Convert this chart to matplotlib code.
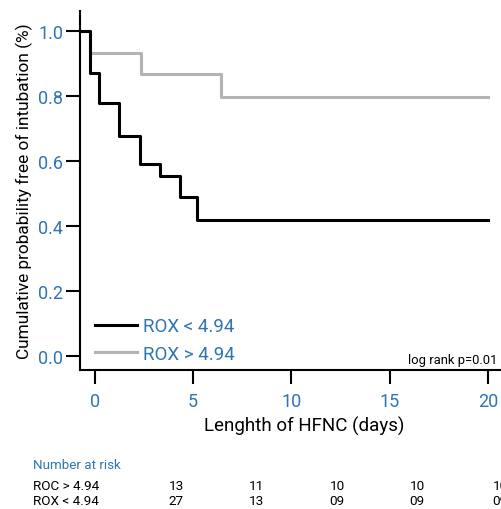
import matplotlib
matplotlib.use("Agg")
import matplotlib.pyplot as plt

plt.rcParams["font.family"] = ["Roboto", "DejaVu Sans"]

BLUE = "#2f74b5"
GREY = "#b3b3b3"

# Kaplan-Meier step curves (time in days, survival probability)
low_t = [-0.8, -0.25, 0.22, 1.25, 2.3, 3.3, 4.35, 5.2, 20]
low_s = [1.0, 0.871, 0.778, 0.678, 0.59, 0.553, 0.49, 0.42, 0.42]
high_t = [-0.8, -0.25, 2.33, 6.4, 20]
high_s = [1.0, 0.933, 0.867, 0.797, 0.797]

xticks = [0, 5, 10, 15, 20]
yticks = [0.0, 0.2, 0.4, 0.6, 0.8, 1.0]

risk_rows = ["ROC > 4.94", "ROX < 4.94"]
risk_high = ["13", "11", "10", "10", "10"]
risk_low = ["27", "13", "09", "09", "09"]

fig = plt.figure(figsize=(5.02, 5.10), dpi=100)
ax = fig.add_axes([0.159, 0.2725, 0.841, 0.7035])

ax.step(high_t, high_s, where="post", color=GREY, lw=2.2, label="ROX > 4.94")
ax.step(low_t, low_s, where="post", color="black", lw=2.2, label="ROX < 4.94")

ax.set_xlim(-0.76, 20.71)
ax.set_ylim(-0.043, 1.0615)
ax.set_xticks(xticks)
ax.set_yticks(yticks)
ax.set_yticklabels([f"{v:.1f}" for v in yticks])

for side in ("top", "right"):
    ax.spines[side].set_visible(False)
for side in ("left", "bottom"):
    ax.spines[side].set_linewidth(1.5)
ax.tick_params(axis="both", length=10, width=1.5, colors="black",
               labelcolor=BLUE, labelsize=13)
ax.tick_params(axis="x", pad=6)
ax.tick_params(axis="y", pad=2)

ax.set_xlabel("Lenghth of HFNC (days)", fontsize=13.5)
ax.xaxis.set_label_coords(0.532, -0.128)
ax.set_ylabel("Cumulative probability free of intubation (%)", fontsize=12.4,
              labelpad=4)

handles, labels = ax.get_legend_handles_labels()
leg = ax.legend(handles[::-1], labels[::-1], loc="lower left",
                bbox_to_anchor=(0.018, 0.0), frameon=False, fontsize=13.5,
                handlelength=2.24, handletextpad=0.32, labelspacing=0.5,
                borderaxespad=0.0)
for txt in leg.get_texts():
    txt.set_color(BLUE)

ax.text(0.99, 0.012, "log rank p=0.01", transform=ax.transAxes,
        ha="right", va="bottom", fontsize=9.4)

# Number at risk table below the axes
fig.text(33 / 502, 1 - 466 / 510, "Number at risk", color=BLUE,
         fontsize=9.6, va="center")
row_y = [1 - 487 / 510, 1 - 502 / 510]
col_x = [176, 256, 337, 417, 500]
for y, name, vals in zip(row_y, risk_rows, [risk_high, risk_low]):
    fig.text(33 / 502, y, name, fontsize=9.7, va="center")
    for x, v in zip(col_x, vals):
        fig.text(x / 502, y, v, fontsize=9.7, ha="center", va="center")

fig.savefig("out.png", dpi=100)
